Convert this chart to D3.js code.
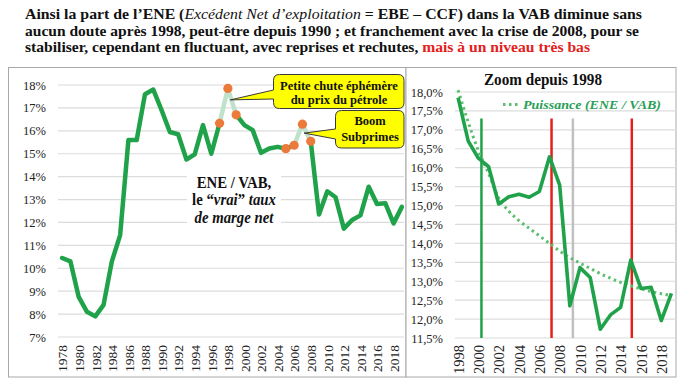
<!DOCTYPE html>
<html>
<head>
<meta charset="utf-8">
<script src="https://cdn.jsdelivr.net/npm/d3@7"></script>
<style>
body{margin:0;background:#fff}
text{font-family:"Liberation Serif","Times New Roman",serif}
</style>
</head>
<body>
<svg id="chart" width="684" height="384"></svg>
<script>
// valeurs
var years = [1978,1979,1980,1981,1982,1983,1984,1985,1986,1987,1988,1989,1990,1991,1992,1993,1994,1995,1996,1997,
             1998,1999,2000,2001,2002,2003,2004,2005,2006,2007,2008,2009,2010,2011,2012,2013,2014,2015,2016,2017,2018,2019];
var eneVab = [10.45,10.3,8.75,8.1,7.9,8.4,10.3,11.45,15.6,15.6,17.6,17.8,16.9,15.95,15.85,14.75,14.97,16.25,15.0,16.33,
              17.85,16.7,16.25,16.03,15.04,15.23,15.3,15.22,15.37,16.29,15.54,12.35,13.36,13.1,11.73,12.11,12.31,13.56,12.81,12.84,11.96,12.68];
var zoomYears = [1998,1999,2000,2001,2002,2003,2004,2005,2006,2007,2008,2009,2010,2011,2012,2013,2014,2015,2016,2017,2018,2019];
var puissance = [18.05,17.2,16.45,15.85,15.2,14.85,14.6,14.4,14.2,14.0,13.8,13.62,13.48,13.34,13.2,13.08,12.97,12.88,12.8,12.73,12.67,12.62];
var highlightYears = [1997,1998,1999,2005,2006,2007,2008];
var paleRanges = [[1997,1999],[2006,2008]];
var ticksLeft = [7,8,9,10,11,12,13,14,15,16,17,18];
var ticksRight = [11.5,12,12.5,13,13.5,14,14.5,15,15.5,16,16.5,17,17.5,18];
var xTicksLeft = [1978,1980,1982,1984,1986,1988,1990,1992,1994,1996,1998,2000,2002,2004,2006,2008,2010,2012,2014,2016,2018];
var xTicksRight = [1998,2000,2002,2004,2006,2008,2010,2012,2014,2016,2018];
var markYears = [2000.3,2007.2,2009.3,2015.1];
var markKinds = ["vert","rouge","gris","rouge"];
var markTop = 17.3;
var callouts = [
  {lines:["Petite chute éphémère","du  prix du pétrole"], year:1998.3, value:17.35},
  {lines:["Boom","Subprimes"], year:2007.2, value:15.9}
];

var svg = d3.select("#chart");
var green = "#1fa24a";

// ---- titre
var title = svg.append("g").attr("font-weight","bold").attr("font-size","15.5px").attr("fill","#111");
var t1 = title.append("text").attr("x",25).attr("y",19).attr("textLength",617).attr("lengthAdjust","spacingAndGlyphs");
t1.append("tspan").text("Ainsi la part de l’ENE (");
t1.append("tspan").attr("font-style","italic").attr("font-weight","normal").text("Excédent Net d’exploitation");
t1.append("tspan").text(" = EBE – CCF) dans la VAB diminue sans");
title.append("text").attr("x",25).attr("y",35.5).attr("textLength",614).attr("lengthAdjust","spacingAndGlyphs")
  .text("aucun doute après 1998, peut-être depuis 1990 ; et franchement avec la crise de 2008, pour se");
var t3 = title.append("text").attr("x",25).attr("y",52).attr("textLength",565).attr("lengthAdjust","spacingAndGlyphs");
t3.append("tspan").text("stabiliser, cependant en fluctuant, avec reprises et rechutes, ");
t3.append("tspan").attr("fill","#e3201b").text("mais à un niveau très bas");

// ---- cadres
svg.append("rect").attr("x",8.5).attr("y",67.5).attr("width",397.5).attr("height",309.5)
  .attr("fill","#fff").attr("stroke","#a8a8a8");
svg.append("rect").attr("x",406).attr("y",67.5).attr("width",270).attr("height",309.5)
  .attr("fill","#fff").attr("stroke","#a8a8a8");

// ---- graphique de gauche
var xL = d3.scaleLinear().domain([1977.5,2019.5]).range([58,406]);
var yL = d3.scaleLinear().domain([7,18]).range([337,85]);

svg.append("g").selectAll("line").data(ticksLeft).enter().append("line")
  .attr("x1",58).attr("x2",404).attr("y1",d=>yL(d)).attr("y2",d=>yL(d))
  .attr("stroke","#dcdcdc").attr("stroke-width",1.2);

var axL = svg.append("g").attr("transform","translate(58,0)")
  .call(d3.axisLeft(yL).tickValues(ticksLeft).tickSize(0).tickPadding(12).tickFormat(d=>d+"%"));
axL.select(".domain").remove();
axL.selectAll("text").attr("font-family","Liberation Serif").attr("font-size","12.5px").attr("fill","#222");

var axLB = svg.append("g").attr("transform","translate(0,337)")
  .call(d3.axisBottom(xL).tickValues(xTicksLeft).tickSize(0).tickFormat(d=>d));
axLB.select(".domain").remove();
axLB.selectAll("text").attr("transform","rotate(-90)").attr("x",-8).attr("y",0).attr("dy","0.35em")
  .style("text-anchor","end").attr("font-family","Liberation Serif").attr("font-size","13.5px").attr("fill","#222");

// texte "ENE / VAB" sur fond blanc
svg.append("rect").attr("x",187).attr("y",168).attr("width",94).attr("height",64).attr("fill","#fff");
var ene = svg.append("g").attr("transform","translate(234,0) scale(0.87,1)")
  .attr("font-weight","bold").attr("font-size","17px").attr("fill","#111").attr("text-anchor","middle");
ene.append("text").attr("x",0).attr("y",188).text("ENE / VAB,");
var e2 = ene.append("text").attr("x",0).attr("y",205.5);
e2.append("tspan").text("le “");
e2.append("tspan").attr("font-style","italic").text("vrai");
e2.append("tspan").text("” ");
e2.append("tspan").attr("font-style","italic").text("taux");
ene.append("text").attr("x",0).attr("y",223).attr("font-style","italic").text("de marge net");

var pts = years.map((y,i)=>({year:y, v:eneVab[i]}));
var lineL = d3.line().x(d=>xL(d.year)).y(d=>yL(d.v));
function isPale(y){ return paleRanges.some(r=>y>=r[0] && y<r[1]); }
// segments pleins
var solid = [], cur = [];
for (var i=0;i<pts.length;i++){
  cur.push(pts[i]);
  if (i<pts.length-1 && isPale(pts[i].year)){ if(cur.length>1) solid.push(cur); cur=[]; }
}
if (cur.length>1) solid.push(cur);
svg.append("g").selectAll("path").data(solid).enter().append("path")
  .attr("d",lineL).attr("fill","none").attr("stroke",green).attr("stroke-width",4.5)
  .attr("stroke-linejoin","round").attr("stroke-linecap","round");
svg.append("g").selectAll("path").data(paleRanges).enter().append("path")
  .attr("d",r=>lineL(pts.filter(p=>p.year>=r[0] && p.year<=r[1])))
  .attr("fill","none").attr("stroke","#bfe2cb").attr("stroke-width",4.5).attr("stroke-linejoin","round");
svg.append("g").selectAll("circle").data(pts.filter(p=>highlightYears.indexOf(p.year)>=0)).enter().append("circle")
  .attr("cx",d=>xL(d.year)).attr("cy",d=>yL(d.v)).attr("r",4.6).attr("fill","#ec7a3a");

// bulles
function bubble(b, x0,y0,x1,y1,w0,w1){
  var r=6, tx=xL(b.year), ty=yL(b.value);
  var p = "M"+(x0+r)+","+y0+" H"+(x1-r)+" Q"+x1+","+y0+" "+x1+","+(y0+r)+
          " V"+(y1-r)+" Q"+x1+","+y1+" "+(x1-r)+","+y1+" H"+(x0+r)+" Q"+x0+","+y1+" "+x0+","+(y1-r)+
          " V"+w1+" L"+tx+","+ty+" L"+x0+","+w0+" V"+(y0+r)+" Q"+x0+","+y0+" "+(x0+r)+","+y0+" Z";
  svg.append("path").attr("d",p).attr("fill","#ffff00").attr("stroke","#3a3a3a").attr("stroke-width",1);
}
bubble(callouts[0],273.5,74.5,404,108.5,90,99);
bubble(callouts[1],335.5,110.5,404,148,129,139);
var cg = svg.append("g").attr("font-weight","bold").attr("font-size","12.5px").attr("fill","#111").attr("text-anchor","middle");
cg.append("text").attr("x",339).attr("y",89.5).text(callouts[0].lines[0]);
cg.append("text").attr("x",339).attr("y",104).text(callouts[0].lines[1]);
cg.append("text").attr("x",370).attr("y",125).text(callouts[1].lines[0]);
cg.append("text").attr("x",370).attr("y",141).text(callouts[1].lines[1]);

// ---- graphique de droite (zoom)
var xR = d3.scaleLinear().domain([1997.5,2019.5]).range([453,676.5]);
var yR = d3.scaleLinear().domain([11.5,18]).range([338,92]);

svg.append("g").selectAll("line").data(ticksRight).enter().append("line")
  .attr("x1",455).attr("x2",676).attr("y1",d=>yR(d)).attr("y2",d=>yR(d))
  .attr("stroke","#dcdcdc").attr("stroke-width",1.2);

var axR = svg.append("g").attr("transform","translate(453,0)")
  .call(d3.axisLeft(yR).tickValues(ticksRight).tickSize(0).tickPadding(10)
    .tickFormat(d=>d.toFixed(1).replace(".",",")+"%"));
axR.select(".domain").remove();
axR.selectAll("text").attr("font-family","Liberation Serif").attr("font-size","12.5px").attr("fill","#222");

var axRB = svg.append("g").attr("transform","translate(0,338)")
  .call(d3.axisBottom(xR).tickValues(xTicksRight).tickSize(0).tickFormat(d=>d));
axRB.select(".domain").remove();
axRB.selectAll("text").attr("transform","rotate(-90)").attr("x",-7).attr("y",0).attr("dy","0.35em")
  .style("text-anchor","end").attr("font-family","Liberation Serif").attr("font-size","14.5px").attr("fill","#222");

svg.append("text").attr("x",484).attr("y",85).attr("font-weight","bold").attr("font-size","16.5px")
  .attr("textLength",118).attr("lengthAdjust","spacingAndGlyphs").attr("fill","#111").text("Zoom depuis 1998");

// légende
svg.append("line").attr("x1",503).attr("x2",519).attr("y1",104.5).attr("y2",104.5)
  .attr("stroke","#5cbf6e").attr("stroke-width",3).attr("stroke-dasharray","2.5,3.5");
svg.append("text").attr("x",523).attr("y",108.5).attr("font-weight","bold").attr("font-style","italic")
  .attr("font-size","13.5px").attr("fill","#2a9e55").attr("textLength",138).attr("lengthAdjust","spacingAndGlyphs")
  .text("Puissance (ENE / VAB)");

var markColor = {vert:green, rouge:"#e3201b", gris:"#c0c0c0"};
svg.append("g").selectAll("line").data(markYears).enter().append("line")
  .attr("x1",d=>xR(d)).attr("x2",d=>xR(d)).attr("y1",yR(markTop)).attr("y2",yR(11.5))
  .attr("stroke",(d,i)=>markColor[markKinds[i]]).attr("stroke-width",2.5);

var trend = zoomYears.map((y,i)=>({year:y, v:puissance[i]}));
svg.append("path").attr("d",d3.line().curve(d3.curveMonotoneX).x(d=>xR(d.year)).y(d=>yR(d.v))(trend))
  .attr("fill","none").attr("stroke","#5cbf6e").attr("stroke-width",3).attr("stroke-dasharray","2.5,3.5");

var zpts = pts.filter(p=>p.year>=1998);
svg.append("path").attr("d",d3.line().x(d=>xR(d.year)).y(d=>yR(d.v))(zpts))
  .attr("fill","none").attr("stroke",green).attr("stroke-width",3.6).attr("stroke-linejoin","round");
</script>
</body>
</html>
